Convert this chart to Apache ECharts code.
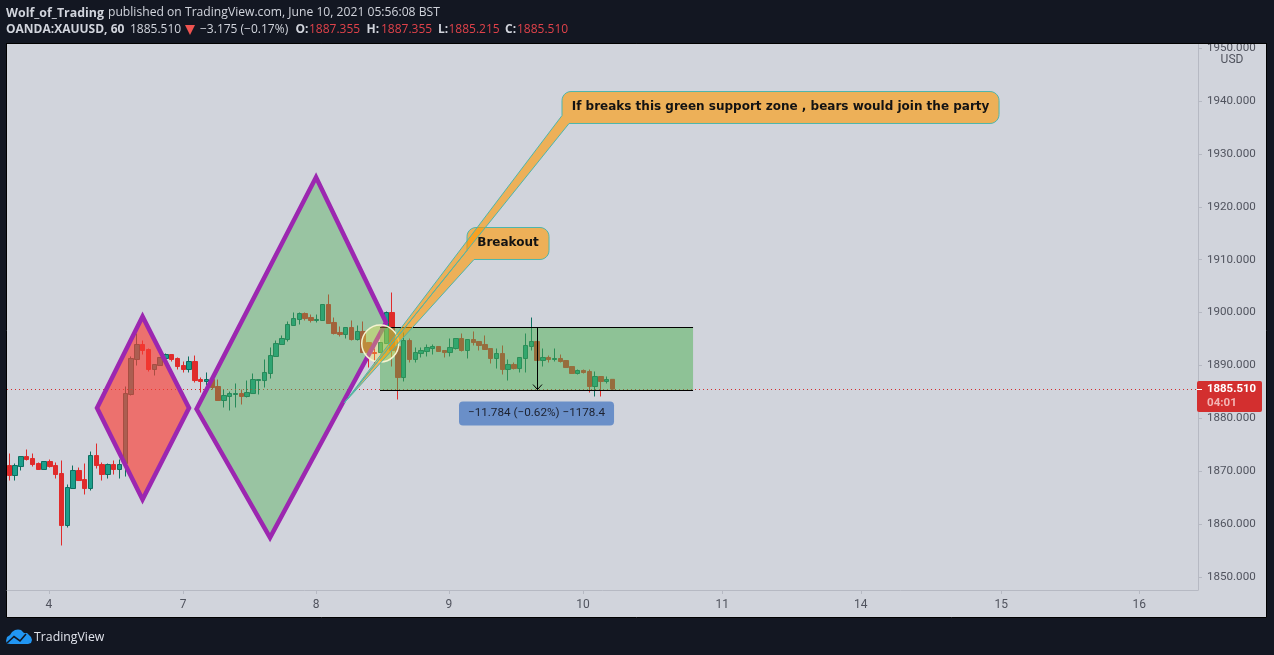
<!DOCTYPE html>
<html><head><meta charset="utf-8">
<style>html,body{margin:0;padding:0;background:#131722}#c{width:1274px;height:655px}</style>
<script src="https://cdn.jsdelivr.net/npm/echarts@6/dist/echarts.min.js"></script>
</head><body><div id="c"></div>
<script>
// ---- Candle values, hourly XAUUSD (index 0..104) ----
const opens=[1871.05,1869.16,1870.86,1872.75,1872.38,1871.43,1870.30,1871.81,1871.05,1869.54,1859.70,1866.70,1870.11,1868.40,1866.70,1872.94,1871.24,1869.35,1871.24,1870.30,
1871.43,1884.49,1891.11,1893.95,1893.00,1889.22,1889.97,1891.30,1892.05,1891.30,1889.97,1889.22,1890.73,1887.32,1886.95,1887.32,1886.00,1883.35,1884.11,1884.49,
1884.67,1884.11,1884.67,1887.13,1887.13,1888.46,1891.68,1893.95,1894.89,1897.54,1898.68,1899.81,1899.05,1898.49,1898.49,1901.51,1898.11,1896.22,1895.84,1897.16,
1894.89,1896.41,1894.32,1892.43,1892.43,1894.13,1900.00,1893.57,1887.70,1894.70,1891.11,1892.24,1892.62,1893.19,1893.57,1892.81,1892.43,1893.19,1895.08,1892.81,
1894.89,1894.51,1893.95,1893.19,1891.30,1892.24,1889.22,1890.16,1889.40,1891.30,1893.57,1894.51,1890.92,1891.49,1891.11,1891.30,1890.92,1889.78,1888.46,1889.03,
1888.84,1886.00,1887.89,1886.95,1887.355];
const closes=[1869.16,1871.05,1872.75,1872.19,1871.24,1870.30,1871.81,1870.86,1869.35,1859.70,1866.89,1870.11,1868.21,1866.70,1872.94,1871.05,1869.35,1871.24,1870.30,1871.24,
1884.67,1891.30,1893.95,1892.81,1889.22,1890.16,1891.49,1892.05,1891.11,1889.78,1889.22,1890.73,1887.13,1886.95,1887.32,1885.81,1883.35,1884.30,1884.67,1884.67,
1884.11,1884.86,1887.32,1887.32,1888.65,1891.86,1894.13,1895.08,1897.73,1898.86,1899.81,1898.86,1898.49,1898.68,1901.51,1897.92,1896.03,1895.84,1897.16,1894.89,
1896.41,1892.43,1892.43,1892.24,1894.32,1900.00,1892.81,1887.70,1894.70,1891.11,1892.43,1892.81,1893.38,1893.57,1892.62,1892.43,1893.38,1895.08,1892.81,1894.89,
1894.32,1893.76,1893.00,1891.30,1892.24,1889.22,1890.16,1889.40,1891.49,1893.76,1894.51,1890.92,1891.49,1891.11,1891.30,1890.73,1889.59,1888.46,1889.03,1888.65,
1886.00,1887.89,1886.95,1887.32,1885.510];
const lows=[1868.21,1868.21,1870.11,1872.00,1870.86,1870.30,1870.30,1870.67,1868.59,1855.92,1859.32,1866.70,1868.21,1865.57,1866.32,1870.48,1868.21,1868.59,1869.35,1868.59,
1868.97,1884.30,1889.97,1892.05,1888.84,1888.08,1889.97,1891.30,1890.73,1889.22,1888.65,1888.65,1886.76,1884.86,1886.19,1885.43,1883.35,1882.03,1881.46,1882.03,
1882.59,1883.92,1884.67,1884.49,1885.81,1887.51,1891.68,1893.95,1894.51,1897.54,1897.73,1898.49,1898.11,1898.11,1898.49,1897.92,1895.84,1895.46,1895.08,1894.70,
1894.70,1892.43,1889.59,1890.35,1892.43,1894.13,1889.78,1883.54,1886.95,1890.54,1890.54,1891.49,1891.68,1892.05,1892.62,1891.49,1891.68,1893.00,1892.62,1891.30,
1893.76,1892.81,1893.00,1890.35,1889.40,1888.27,1887.13,1889.22,1888.65,1888.65,1892.81,1890.92,1889.78,1890.54,1890.73,1890.54,1889.59,1888.46,1888.27,1888.46,
1884.86,1884.11,1884.11,1886.57,1885.215];
const highs=[1873.32,1871.43,1872.75,1874.08,1873.32,1871.62,1871.81,1872.19,1871.62,1872.00,1867.46,1871.05,1870.67,1871.43,1873.70,1875.21,1871.62,1871.43,1872.00,1872.19,
1886.00,1891.68,1896.03,1894.70,1893.19,1890.16,1891.49,1892.24,1892.05,1891.49,1890.73,1891.68,1891.86,1887.70,1888.65,1887.32,1887.32,1885.43,1885.05,1886.57,
1885.43,1887.13,1888.46,1887.32,1891.11,1893.38,1894.70,1895.65,1898.30,1900.00,1900.00,1900.00,1899.62,1899.62,1901.51,1903.41,1899.05,1897.35,1897.16,1898.49,
1897.54,1898.30,1894.32,1893.19,1894.32,1900.19,1903.78,1894.70,1896.22,1895.08,1893.38,1893.38,1893.95,1893.95,1893.57,1892.81,1895.08,1895.08,1896.03,1894.89,
1896.41,1894.51,1895.65,1893.19,1893.19,1893.76,1891.11,1890.54,1891.49,1896.03,1899.05,1894.51,1893.19,1891.86,1893.19,1892.05,1890.92,1889.78,1889.22,1889.22,
1889.22,1888.84,1887.89,1887.89,1887.355];
const lastPrice=1885.51;

// ---- Axes ----
const xTickPos=[6.84,29.95,52.9,75.8,98.9,122.9,146.8,171.0,194.8];
const xTickLabels=['4','7','8','9','10','11','14','15','16'];
const yTicks=[1850,1860,1870,1880,1890,1900,1910,1920,1930,1940,1950];

// ---- Drawings, in chart coordinates [candle index, price] ----
const redDiamond=[[15.12,1881.93],[22.97,1899.24],[30.98,1881.93],[22.97,1864.62]];
const greenDiamond=[[32.28,1881.74],[52.88,1925.6],[64.95,1898.11],[44.95,1857.43]];
const zoneX=[63.91,117.88];
const zoneY=[1897.25,1885.33];
const arrowX=90.9;
const circleCenter=[63.95,1894.13];
const tip=[57.76,1882.9];
const callout1={box:[95.29,1941.81,170.64,1935.76],a:[96.5,1935.76],b:[95.29,1937.27],text:'If breaks this green support zone , bears would join the party'};
const callout2={box:[78.91,1916.08,93.05,1910.03],a:[80.12,1910.03],b:[78.91,1911.73],text:'Breakout'};
const rangeBox=[77.53,1883.16,104.26,1878.62];
const rangeText='\u221211.784 (\u22120.62%) \u22121178.4';

const BG='#131722',PANEL='#d1d4dc',PURPLE='#9c27b0';

function overlay(z,draw){return{type:'custom',coordinateSystem:'cartesian2d',z,silent:true,clip:false,data:[[0,0]],encode:{x:0,y:1},renderItem:(p,api)=>draw(api)};}
function diamond(points,fill,z){return overlay(z,api=>({type:'polygon',shape:{points:points.map(q=>api.coord(q))},
  style:{fill,stroke:PURPLE,lineWidth:4.5,lineJoin:'miter',miterLimit:20}}));}
function arc(cx,cy,r,a0,a1){const o=[];for(let i=0;i<=6;i++){const a=a0+(a1-a0)*i/6;o.push([cx+r*Math.cos(a),cy+r*Math.sin(a)]);}return o;}
function callout(c,z){return overlay(z,api=>{
  const [l,t]=api.coord([c.box[0],c.box[1]]),[r,b]=api.coord([c.box[2],c.box[3]]),R=9,P=Math.PI;
  const pts=[].concat(arc(l+R,t+R,R,P,1.5*P),arc(r-R,t+R,R,1.5*P,2*P),arc(r-R,b-R,R,0,.5*P),[api.coord(c.a),api.coord(tip),api.coord(c.b)]);
  return{type:'group',children:[
    {type:'polygon',shape:{points:pts},style:{fill:'rgba(255,152,0,0.6)',stroke:'#4db6ac',lineWidth:1}},
    {type:'text',style:{x:(l+r)/2,y:(t+b)/2-0.5,text:c.text,align:'center',verticalAlign:'middle',font:'bold 12px "DejaVu Sans"',fill:'#131313'}}]};
});}

const chart=echarts.init(document.getElementById('c'),null,{renderer:'canvas'});
const T=(x,y,text,fill,weight,size,extra)=>Object.assign({type:'text',z:101,x,y,style:{text,fill,font:(weight||'normal')+' '+(size||12)+'px "Open Sans"',verticalAlign:'middle'}},extra||{});
const RED='#e0424a',HEAD='#d1d4dc';
chart.setOption({
  animation:false,backgroundColor:BG,
  grid:{left:7,right:76,top:44,bottom:65},
  xAxis:{type:'value',min:-0.4,max:204.94,splitLine:{show:false},
    axisLine:{onZero:false,lineStyle:{color:'#b6b9c3'}},
    axisTick:{length:4,customValues:xTickPos,lineStyle:{color:'#b6b9c3'}},
    axisLabel:{customValues:xTickPos,margin:9,color:'#50535e',fontFamily:'Roboto',fontSize:12,
      formatter:v=>xTickLabels[xTickPos.indexOf(v)]??''}},
  yAxis:{type:'value',position:'right',min:1847.5,max:1950.8,splitLine:{show:false},
    axisLine:{show:true,onZero:false,lineStyle:{color:'#b6b9c3'}},
    axisTick:{show:true,length:4,customValues:yTicks,lineStyle:{color:'#b6b9c3'}},
    axisLabel:{customValues:yTicks,margin:9,padding:[3,0,0,0],color:'#50535e',fontFamily:'Roboto',fontSize:11.6,
      formatter:v=>v.toFixed(3)}},
  series:[
    {type:'candlestick',z:3,barWidth:5,silent:true,encode:{x:0,y:[1,2,3,4]},
      data:opens.map((o,i)=>[i,o,closes[i],lows[i],highs[i]]),
      itemStyle:{color:'#1b9e8b',color0:'#e02b2b',borderColor:'#0d6f60',borderColor0:'#e02b2b',borderWidth:1},
      markLine:{silent:true,symbol:'none',animation:false,label:{show:false},
        lineStyle:{type:[1,3],width:1,color:'#d32f2f'},data:[{yAxis:lastPrice}]}},
    diamond(redDiamond,'rgba(250,60,50,0.65)',5),
    diamond(greenDiamond,'rgba(76,175,80,0.42)',5),
    overlay(6,api=>{const [x0,y0]=api.coord([zoneX[0],zoneY[0]]),[x1,y1]=api.coord([zoneX[1],zoneY[1]]);
      const ax=api.coord([arrowX,zoneY[0]])[0];
      const sharp=v=>Math.round(v)+.5;
      return{type:'group',children:[
        {type:'rect',shape:{x:x0,y:y0,width:x1-x0,height:y1-y0},style:{fill:'rgba(76,175,80,0.5)'}},
        {type:'line',shape:{x1:x0,y1:sharp(y0),x2:x1,y2:sharp(y0)},style:{stroke:'#000',lineWidth:1}},
        {type:'line',shape:{x1:x0,y1:sharp(y1),x2:x1,y2:sharp(y1)},style:{stroke:'#000',lineWidth:1}},
        {type:'line',shape:{x1:sharp(ax),y1:y0,x2:sharp(ax),y2:y1},style:{stroke:'#000',lineWidth:1}},
        {type:'polyline',shape:{points:[[sharp(ax)-4.5,y1-5.5],[sharp(ax),y1-.5],[sharp(ax)+4.5,y1-5.5]]},style:{stroke:'#000',fill:null,lineWidth:1}}
      ]};}),
    overlay(7,api=>{const [cx,cy]=api.coord(circleCenter);
      return{type:'circle',shape:{cx,cy,r:18.5},style:{fill:'rgba(255,235,59,0.3)',stroke:'#f6f3d0',lineWidth:1.5}};}),
    callout(callout2,8),
    callout(callout1,9),
    overlay(9,api=>{const [l,t]=api.coord([rangeBox[0],rangeBox[1]]),[r,b]=api.coord([rangeBox[2],rangeBox[3]]);
      return{type:'group',children:[
        {type:'rect',shape:{x:l,y:t,width:r-l,height:b-t,r:4},style:{fill:'#6a8fc8'}},
        {type:'text',style:{x:(l+r)/2,y:(t+b)/2,text:rangeText,align:'center',verticalAlign:'middle',font:'11.7px Roboto',fill:'#1d2230'}}]};})
  ],
  graphic:[
    {type:'rect',z:-10,shape:{x:6.5,y:43.5,width:1260,height:574},style:{fill:PANEL,stroke:'#000',lineWidth:1}},
    {type:'rect',z:100,shape:{x:0,y:0,width:1274,height:43},style:{fill:BG}},
    {type:'line',z:100,shape:{x1:6,y1:43.5,x2:1267,y2:43.5},style:{stroke:'#000',lineWidth:1}},
    {type:'rect',z:100,shape:{x:1199,y:52,width:66,height:15},style:{fill:PANEL}},
    {type:'text',z:101,x:1232,y:59.5,style:{text:'USD',fill:'#50535e',font:'12px Roboto',align:'center',verticalAlign:'middle'}},
    T(6,13,'Wolf_of_Trading',HEAD,'bold',12.4),
    T(108,13,'published on TradingView.com, June 10, 2021 05:56:08 BST',HEAD,'normal',12.15),
    T(6,30,'OANDA:XAUUSD, 60',HEAD,'bold',12),
    T(130,30,'1885.510',HEAD),
    {type:'polygon',z:101,shape:{points:[[185,25],[195,25],[190,35]]},style:{fill:'#ef5350'}},
    T(200,30,'\u22123.175 (\u22120.17%)',HEAD),
    T(295.5,30,'O:',HEAD,'bold'),T(309,30,'1887.355',RED),
    T(366.5,30,'H:',HEAD,'bold'),T(381,30,'1887.355',RED),
    T(438,30,'L:',HEAD,'bold'),T(448.5,30,'1885.215',RED),
    T(505,30,'C:',HEAD,'bold'),T(517,30,'1885.510',RED),
    {type:'rect',z:90,shape:{x:1197,y:381,width:65,height:31,r:2},style:{fill:'#d32f2f'}},
    {type:'line',z:91,shape:{x1:1197,y1:389.5,x2:1202,y2:389.5},style:{stroke:'#fff',lineWidth:1}},
    {type:'text',z:91,x:1207,y:389.5,style:{text:'1885.510',fill:'#fff',font:'bold 11.4px Roboto',verticalAlign:'middle'}},
    {type:'text',z:91,x:1207,y:403.5,style:{text:'04:01',fill:'#f3b4b4',font:'bold 11.6px Roboto',verticalAlign:'middle'}},
    {type:'polygon',z:101,shape:{points:[[6,641],[7,637],[10,635],[12,632],[15,630],[18,629.5],[21,630],[24,633],[27,633],[29,635],[31,637],[32,640],[31,643],[28,644],[10,644],[7,643.5]]},style:{fill:'#2196f3'}},
    {type:'polyline',z:102,shape:{points:[[7,643],[14,636.5],[20,641],[26,634]]},style:{stroke:BG,fill:null,lineWidth:1.6}},
    {type:'text',z:101,x:34,y:637,style:{text:'TradingView',fill:'#e0e3eb',font:'12.3px "Open Sans"',verticalAlign:'middle'}}
  ]
});
</script></body></html>
